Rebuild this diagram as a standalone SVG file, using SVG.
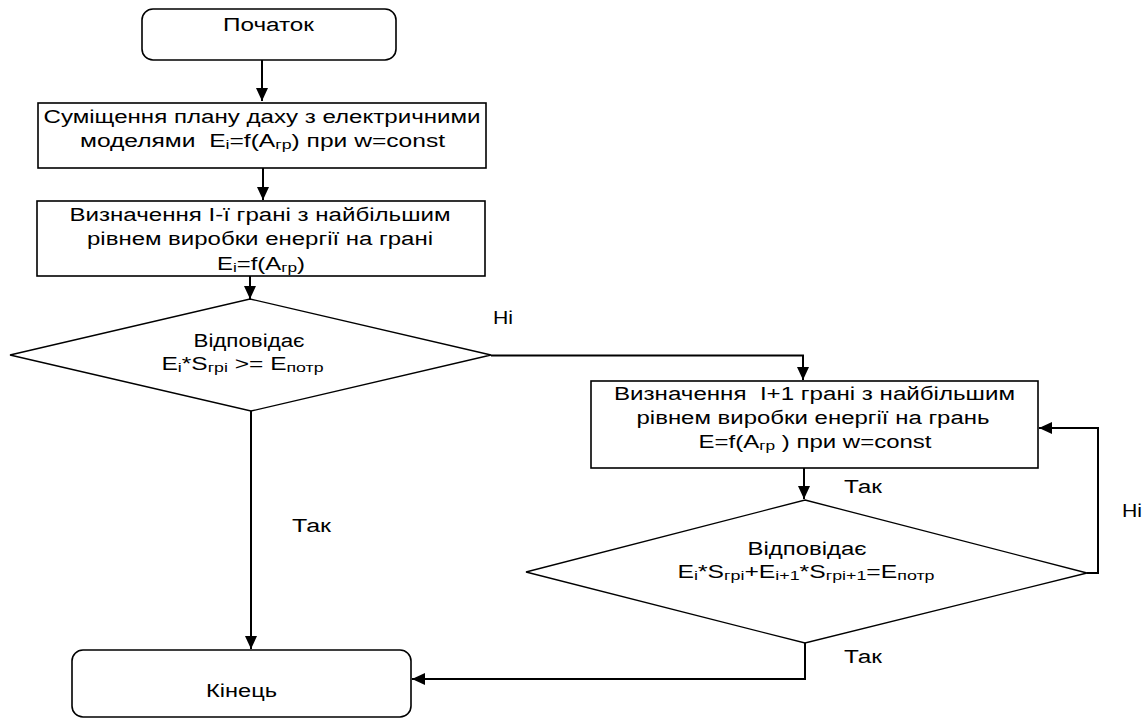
<svg xmlns="http://www.w3.org/2000/svg" width="1147" height="720" viewBox="0 0 1147 720">
<style>
text{font-family:"Liberation Sans",Arial,sans-serif;font-size:18px;fill:#000;text-anchor:middle}
.lbl{text-anchor:start}
.pre{white-space:pre}
.box{fill:#fff;stroke:#000;stroke-width:1.6}
.dia{fill:#fff;stroke:#000;stroke-width:1.3}
.con{fill:none;stroke:#000;stroke-width:2}
.s{font-size:13px}
</style>
<defs>
<marker id="ah" markerUnits="userSpaceOnUse" markerWidth="14" markerHeight="12" refX="13" refY="6" orient="auto">
<path d="M0,0 L13,6 L0,12 z" fill="#000"/>
</marker>
</defs>
<g id="connectors">
<path class="con" d="M262,60 V101" marker-end="url(#ah)"/>
<path class="con" d="M263,168 V200" marker-end="url(#ah)"/>
<path class="con" d="M250,276 V299" marker-end="url(#ah)"/>
<path class="con" d="M491,355.5 H803 V380" marker-end="url(#ah)"/>
<path class="con" d="M804,468 V499" marker-end="url(#ah)"/>
<path class="con" d="M1087,573 H1098 V428 H1039" marker-end="url(#ah)"/>
<path class="con" d="M805,643 V679 H412" marker-end="url(#ah)"/>
<path class="con" d="M251,411 V649" marker-end="url(#ah)"/>
<text class="lbl" x="493" y="324" textLength="20" lengthAdjust="spacingAndGlyphs">Ні</text>
<text class="lbl" x="1122" y="517" textLength="20" lengthAdjust="spacingAndGlyphs">Ні</text>
<text class="lbl" x="844" y="493" textLength="38" lengthAdjust="spacingAndGlyphs">Так</text>
<text class="lbl" x="844" y="663" textLength="38" lengthAdjust="spacingAndGlyphs">Так</text>
<text class="lbl" x="292" y="532" textLength="39" lengthAdjust="spacingAndGlyphs">Так</text>
</g>
<g id="start">
<rect class="box" x="142" y="9" width="254" height="51" rx="11"/>
<text x="268.5" y="31" textLength="91" lengthAdjust="spacingAndGlyphs">Початок</text>
</g>
<g id="step1">
<rect class="box" x="38" y="103" width="448" height="65"/>
<text x="262" y="123" textLength="437" lengthAdjust="spacingAndGlyphs">Суміщення плану даху з електричними</text>
<text class="pre" x="262.5" y="147" textLength="365" lengthAdjust="spacingAndGlyphs">моделями  E<tspan class="s" dy="2">i</tspan><tspan dy="-2">=f(A</tspan><tspan class="s" dy="2">гр</tspan><tspan dy="-2">) при w=const</tspan></text>
</g>
<g id="step2">
<rect class="box" x="37" y="201" width="448" height="75"/>
<text x="260" y="221" textLength="381" lengthAdjust="spacingAndGlyphs">Визначення І-ї грані з найбільшим</text>
<text x="260" y="245" textLength="346" lengthAdjust="spacingAndGlyphs">рівнем виробки енергії на грані</text>
<text x="261" y="269.5" textLength="88" lengthAdjust="spacingAndGlyphs">E<tspan class="s" dy="2">i</tspan><tspan dy="-2">=f(A</tspan><tspan class="s" dy="2">гр</tspan><tspan dy="-2">)</tspan></text>
</g>
<g id="decision1">
<polygon class="dia" points="250,299 491,355 251,411 10,355"/>
<text x="249" y="346.5" textLength="111" lengthAdjust="spacingAndGlyphs">Відповідає</text>
<text x="242.5" y="370" textLength="162" lengthAdjust="spacingAndGlyphs">E<tspan class="s" dy="2">i</tspan><tspan dy="-2">*S</tspan><tspan class="s" dy="2">гpi</tspan><tspan dy="-2"> &gt;= E</tspan><tspan class="s" dy="2">потр</tspan></text>
</g>
<g id="step3">
<rect class="box" x="591" y="381" width="447" height="87"/>
<text class="pre" x="814.5" y="400" textLength="401" lengthAdjust="spacingAndGlyphs">Визначення  І+1 грані з найбільшим</text>
<text x="813" y="424" textLength="353" lengthAdjust="spacingAndGlyphs">рівнем виробки енергії на грань</text>
<text x="815" y="448" textLength="233" lengthAdjust="spacingAndGlyphs">E=f(A<tspan class="s" dy="2">гр</tspan><tspan dy="-2"> ) при w=const</tspan></text>
</g>
<g id="decision2">
<polygon class="dia" points="805,500 1087,573 805,643 526,572"/>
<text x="807" y="555" textLength="119" lengthAdjust="spacingAndGlyphs">Відповідає</text>
<text x="806" y="578" textLength="257" lengthAdjust="spacingAndGlyphs">E<tspan class="s" dy="2">i</tspan><tspan dy="-2">*S</tspan><tspan class="s" dy="2">гpi</tspan><tspan dy="-2">+E</tspan><tspan class="s" dy="2">i+1</tspan><tspan dy="-2">*S</tspan><tspan class="s" dy="2">гpi+1</tspan><tspan dy="-2">=E</tspan><tspan class="s" dy="2">потр</tspan></text>
</g>
<g id="end">
<rect class="box" x="72" y="650" width="339" height="67" rx="11"/>
<text x="241.5" y="697" textLength="71" lengthAdjust="spacingAndGlyphs">Кінець</text>
</g>
</svg>
